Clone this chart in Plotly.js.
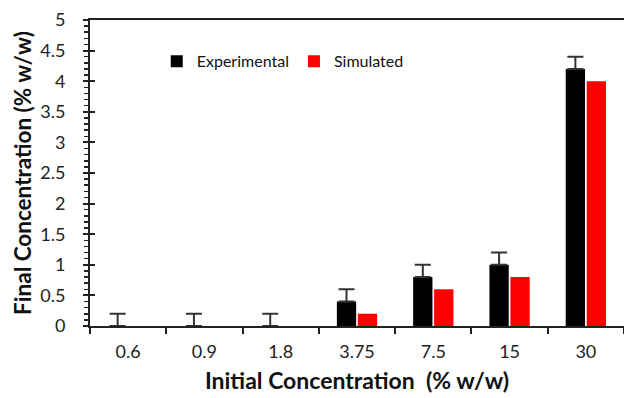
<!DOCTYPE html>
<html>
<head>
<meta charset="utf-8">
<script src="https://cdn.plot.ly/plotly-3.0.1.min.js"></script>
<style>html,body{margin:0;padding:0;background:#fff;}#chart{width:624px;height:398px;}</style>
</head>
<body>
<div id="chart"></div>
<script>
const categories = ["0.6", "0.9", "1.8", "3.75", "7.5", "15", "30"];
const experimental = [0, 0, 0, 0.4, 0.8, 1.0, 4.2];
const experimentalError = [0.2, 0.2, 0.2, 0.2, 0.2, 0.2, 0.2];
const simulated = [0, 0, 0, 0.2, 0.6, 0.8, 4.0];
const yTickVals = [0, 0.5, 1, 1.5, 2, 2.5, 3, 3.5, 4, 4.5, 5];
const yTickText = ["0", "0.5", "1", "1.5", "2", "2.5", "3", "3.5", "4", "4.5", "5"];

const font = "Lato, 'Liberation Sans', sans-serif";

const traces = [
  {
    type: "bar", name: "Experimental", x: categories, y: experimental,
    marker: {color: "#000000", line: {color: "#404040", width: 0}},
    error_y: {type: "data", symmetric: false, array: experimentalError, arrayminus: experimental.map(() => 0),
              color: "#333333", thickness: 2, width: 8}
  },
  {
    type: "bar", name: "Simulated", x: categories, y: simulated,
    marker: {color: "#ff0000", line: {color: "#ff3030", width: 0}}
  },
  {
    type: "scatter", x: categories, y: simulated, yaxis: "y2", mode: "none",
    showlegend: false, hoverinfo: "skip"
  }
];

const layout = {
  width: 624, height: 398,
  margin: {l: 90, r: 0, t: 20, b: 72},
  paper_bgcolor: "#ffffff", plot_bgcolor: "#ffffff",
  font: {family: font, size: 18, color: "#222222"},
  barmode: "group", bargap: 0.45, bargroupgap: 0.08,
  showlegend: true,
  legend: {orientation: "h", x: 0.125, y: 0.865, xanchor: "left", yanchor: "middle",
           bgcolor: "rgba(0,0,0,0)", font: {size: 16, family: font, color: "#111"},
           itemwidth: 30, traceorder: "normal"},
  xaxis: {
    type: "category", showgrid: false, zeroline: false,
    showline: true, linecolor: "#222222", linewidth: 2, mirror: true,
    ticks: "outside", tickson: "boundaries", ticklen: 6, tickwidth: 2, tickcolor: "#222222",
    ticklabelstandoff: 8,
    tickfont: {size: 18, family: font, color: "#222"},
    title: {text: "<b>Initial Concentration&nbsp;&nbsp;(% w/w)</b>", font: {size: 23, family: font, color: "#111"}, standoff: 12}
  },
  yaxis: {
    range: [0, 5], showgrid: false, zeroline: false,
    showline: true, linecolor: "#222222", linewidth: 2,
    tickmode: "array", tickvals: yTickVals, ticktext: yTickText,
    ticks: "outside", ticklen: 5, tickwidth: 2, tickcolor: "#222222",
    ticklabelstandoff: 14,
    minor: {dtick: 0.1, ticks: "outside", ticklen: 4, tickwidth: 1.5, tickcolor: "#222222"},
    tickfont: {size: 18, family: font, color: "#222"},
    title: {text: "<b>Final Concentration (% w/w)</b>", font: {size: 22.5, family: font, color: "#111"}, standoff: 2}
  },
  yaxis2: {
    overlaying: "y", side: "left", range: [0, 5], showgrid: false, zeroline: false,
    showline: false, tickmode: "array", tickvals: yTickVals, showticklabels: false,
    ticks: "inside", ticklen: 5, tickwidth: 2, tickcolor: "#222222"
  }
};

Plotly.newPlot("chart", traces, layout, {displayModeBar: false, staticPlot: true});
</script>
</body>
</html>
